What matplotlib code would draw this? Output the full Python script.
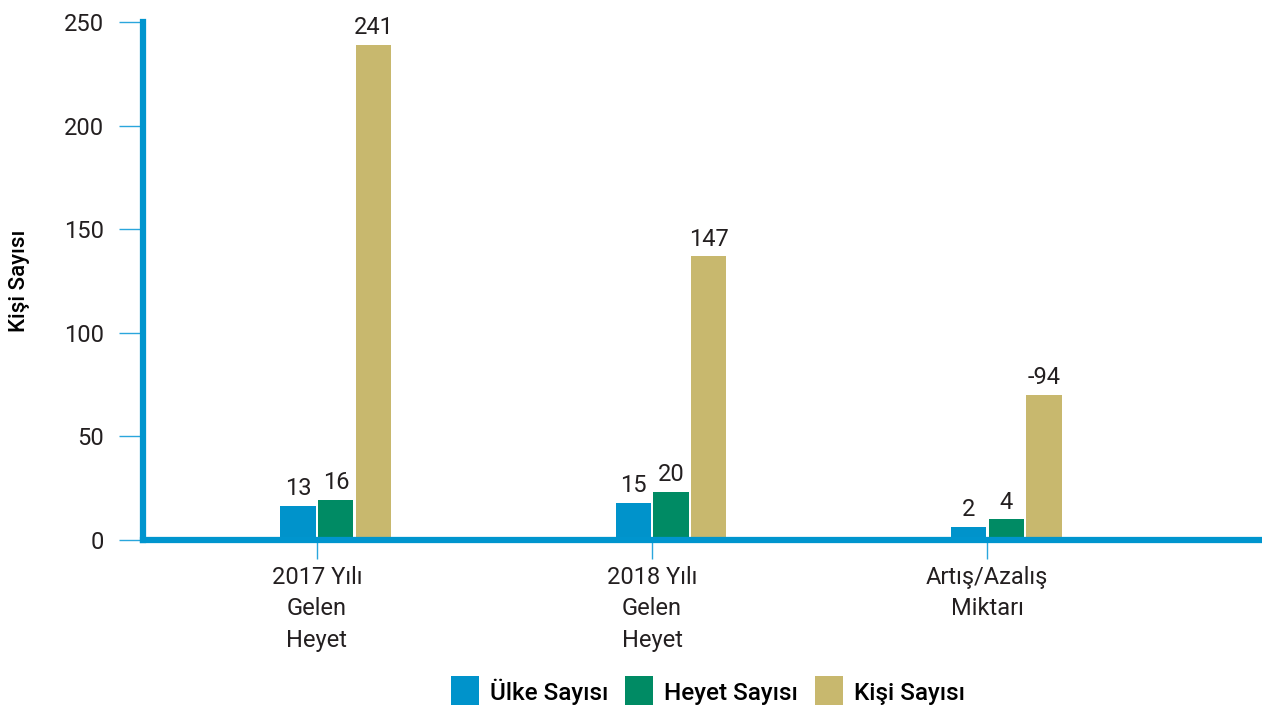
import matplotlib
matplotlib.use("Agg")
import matplotlib.pyplot as plt
from matplotlib.patches import Patch
import numpy as np

plt.rcParams['font.family'] = ['Roboto', 'DejaVu Sans']

categories = ["2017 Yılı\nGelen\nHeyet", "2018 Yılı\nGelen\nHeyet", "Artış/Azalış\nMiktarı"]
series_names = ["Ülke Sayısı", "Heyet Sayısı", "Kişi Sayısı"]
# bar heights as drawn in the picture
ulke_heights = [16.4, 17.9, 6.3]
heyet_heights = [19.3, 23.2, 10.1]
kisi_heights = [239, 137, 70]
# value labels as printed
ulke_labels = ["13", "15", "2"]
heyet_labels = ["16", "20", "4"]
kisi_labels = ["241", "147", "-94"]
y_ticks = [0, 50, 100, 150, 200, 250]

colors = ["#0093CB", "#008B64", "#C8B86E"]
axis_blue = "#0095CE"
tick_blue = "#2AA6DC"
text_col = "#231F20"

fig = plt.figure(figsize=(12.62, 7.05), dpi=100)
ax = fig.add_axes([143/1262, 1-540/705, 1-143/1262, (540-22)/705])

x = np.arange(len(categories))
w = 0.105
step = 0.113
offsets = [-0.5*step, 0.5*step, 1.5*step]
all_heights = [ulke_heights, heyet_heights, kisi_heights]
all_labels = [ulke_labels, heyet_labels, kisi_labels]
for off, h, lab, c in zip(offsets, all_heights, all_labels, colors):
    bars = ax.bar(x + off, h, width=w, color=c, zorder=2)
    ax.bar_label(bars, labels=lab, padding=4, fontsize=17, color=text_col,
                 fontweight='normal')

ax.set_xlim(-0.519, 2.82)
ax.set_ylim(0, 250)
ax.set_yticks(y_ticks)
ax.set_xticks(x)
ax.set_xticklabels(categories, linespacing=1.45)

for s in ["top", "right"]:
    ax.spines[s].set_visible(False)
for s in ["left", "bottom"]:
    ax.spines[s].set_color(axis_blue)
    ax.spines[s].set_linewidth(4.5)
    ax.spines[s].set_zorder(3)
ax.spines["bottom"].set_capstyle('projecting')

ax.tick_params(axis='y', length=17, width=1.0, color=tick_blue, pad=11,
               labelsize=17, labelcolor=text_col)
ax.tick_params(axis='x', length=14, width=1.0, color=tick_blue, pad=5,
               labelsize=17, labelcolor=text_col)

fig.text(20/1262, 1-281/705, "Kişi Sayısı", rotation=90, ha='center', va='center',
         fontsize=16, fontweight='medium', color='#000000')

handles = [Patch(facecolor=c, edgecolor='none') for c in colors]
fig.legend(handles, series_names, loc='center', bbox_to_anchor=(708/1262, 1-692/705),
           ncol=3, frameon=False, handlelength=1.15, handleheight=1.6,
           handletextpad=0.45, columnspacing=0.7, prop={'weight': 'medium', 'size': 17.5})

fig.savefig("out.png", dpi=100)
